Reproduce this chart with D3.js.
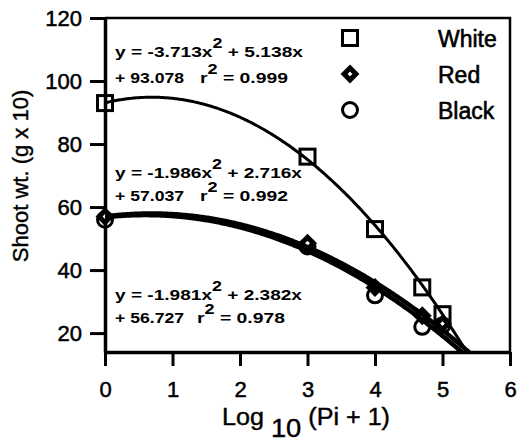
<!DOCTYPE html>
<html>
<head>
<script src="https://cdn.jsdelivr.net/npm/d3@7"></script>
<style>
  body { margin: 0; background: #fff; }
  text { font-family: "Liberation Sans", Arial, sans-serif; fill: #000; }
</style>
</head>
<body>
<svg id="chart" width="518" height="441"></svg>
<script>
// data
var seriesNames = ["White", "Red", "Black"];
var xVals  = [0, 3, 4, 4.7, 5];
var white  = [93, 76, 53, 34.5, 26];
var red    = [57, 48.5, 34.5, 25.5, 23];
var black  = [56, 47.5, 32, 22, 22.5];
// quadratic fits printed on the chart
var fitA  = [-3.713, -1.986, -1.981];
var fitB  = [5.138, 2.716, 2.382];
var fitC  = [93.078, 57.037, 56.727];
var fitR2 = [0.999, 0.992, 0.978];
var xTicks = [0, 1, 2, 3, 4, 5, 6];
var yTicks = [20, 40, 60, 80, 100, 120];

var svg = d3.select("#chart");
var x = d3.scaleLinear().domain([0, 6]).range([105, 510]);
var y = d3.scaleLinear().domain([14, 120]).range([352, 18]);

svg.append("clipPath").attr("id", "plotclip")
  .append("rect").attr("x", x(0)).attr("y", y(120))
  .attr("width", x(6) - x(0)).attr("height", y(14) - y(120));

// frame (top + right)
svg.append("path")
  .attr("d", "M" + x(0) + "," + y(120) + "H" + x(6) + "V" + y(14))
  .attr("fill", "none").attr("stroke", "#000").attr("stroke-width", 2.5);

var yAxis = svg.append("g").attr("transform", "translate(" + x(0) + ",0)")
  .call(d3.axisLeft(y).tickValues(yTicks).tickSize(15).tickSizeOuter(0).tickPadding(8));
var xAxis = svg.append("g").attr("transform", "translate(0," + y(14) + ")")
  .call(d3.axisBottom(x).tickValues(xTicks).tickFormat(d3.format("d"))
    .tickSize(14).tickSizeOuter(0).tickPadding(15));
[yAxis, xAxis].forEach(function(g) {
  g.select(".domain").attr("stroke-width", 3.5);
  g.selectAll(".tick line").attr("stroke-width", 3);
  g.selectAll(".tick text").style("font-size", "22px")
    .style("font-family", "'Liberation Sans', Arial, sans-serif")
    .attr("stroke", "#000").attr("stroke-width", 0.5);
});

// markers
function drawSquare(g, cx, cy) {
  g.append("rect").attr("x", cx - 7.5).attr("y", cy - 7.5).attr("width", 15).attr("height", 15)
    .attr("fill", "none").attr("stroke", "#000").attr("stroke-width", 3);
}
function drawDiamond(g, cx, cy) {
  g.append("path").attr("d", d3.symbol(d3.symbolDiamond2, 90)())
    .attr("transform", "translate(" + cx + "," + cy + ")")
    .attr("fill", "#fff").attr("stroke", "#000").attr("stroke-width", 5);
}
function drawCircle(g, cx, cy) {
  g.append("circle").attr("cx", cx).attr("cy", cy).attr("r", 7.5)
    .attr("fill", "none").attr("stroke", "#000").attr("stroke-width", 3);
}
var markerFns = [drawSquare, drawDiamond, drawCircle];
var seriesVals = [white, red, black];

var pts = svg.append("g");
seriesVals.forEach(function(vals, s) {
  vals.forEach(function(v, i) { markerFns[s](pts, x(xVals[i]), y(v)); });
});

// fitted curves
var widths = [3, 4.5, 4.5];
var xs = d3.range(0, 6.001, 0.02);
var line = d3.line().x(function(d) { return x(d[0]); }).y(function(d) { return y(d[1]); });
fitA.forEach(function(a, s) {
  var data = xs.map(function(t) { return [t, a * t * t + fitB[s] * t + fitC[s]]; });
  svg.append("path").datum(data).attr("d", line)
    .attr("clip-path", "url(#plotclip)")
    .attr("fill", "none").attr("stroke", "#000").attr("stroke-width", widths[s]);
});

// equations
var eqPos = [[115, 57, 83, 200], [115, 178, 201, 200], [115, 300, 323, 197]];
var eqLen = [188, 187, 187];
fitA.forEach(function(a, s) {
  var p = eqPos[s];
  var t1 = svg.append("text").attr("x", p[0]).attr("y", p[1])
    .style("font-size", "15px").style("font-weight", "bold")
    .attr("textLength", eqLen[s]).attr("lengthAdjust", "spacingAndGlyphs");
  t1.append("tspan").text("y =  " + a.toFixed(3) + "x");
  t1.append("tspan").attr("dy", -9).style("font-size", "14px").text("2");
  t1.append("tspan").attr("dy", 9).text(" + " + fitB[s].toFixed(3) + "x");

  svg.append("text").attr("x", p[0]).attr("y", p[2])
    .style("font-size", "15px").style("font-weight", "bold")
    .attr("textLength", 69).attr("lengthAdjust", "spacingAndGlyphs")
    .text("+ " + fitC[s].toFixed(3));
  var t2 = svg.append("text").attr("x", p[3]).attr("y", p[2])
    .style("font-size", "15px").style("font-weight", "bold")
    .attr("textLength", 88).attr("lengthAdjust", "spacingAndGlyphs");
  t2.append("tspan").text("r");
  t2.append("tspan").attr("dy", -9).style("font-size", "14px").text("2");
  t2.append("tspan").attr("dy", 9).text(" = " + fitR2[s].toFixed(3));
});

// legend
var legY = [38, 74, 110];
seriesNames.forEach(function(name, s) {
  markerFns[s](svg, 350, legY[s]);
  svg.append("text").attr("x", 438).attr("y", legY[s] + 9)
    .style("font-size", "23px").attr("stroke", "#000").attr("stroke-width", 0.6)
    .text(name);
});

// axis titles
svg.append("text").attr("transform", "translate(28,176) rotate(-90)")
  .attr("text-anchor", "middle").style("font-size", "22px")
  .attr("stroke", "#000").attr("stroke-width", 0.4)
  .text("Shoot wt. (g x 10)");

var xt = svg.append("text").attr("x", 222).attr("y", 425)
  .style("font-size", "23px").attr("stroke", "#000").attr("stroke-width", 0.4)
  .attr("textLength", 168).attr("lengthAdjust", "spacingAndGlyphs");
xt.append("tspan").text("Log ");
xt.append("tspan").attr("dy", 12).style("font-size", "25px").text("10");
xt.append("tspan").attr("dy", -12).text(" (Pi + 1)");
</script>
</body>
</html>
